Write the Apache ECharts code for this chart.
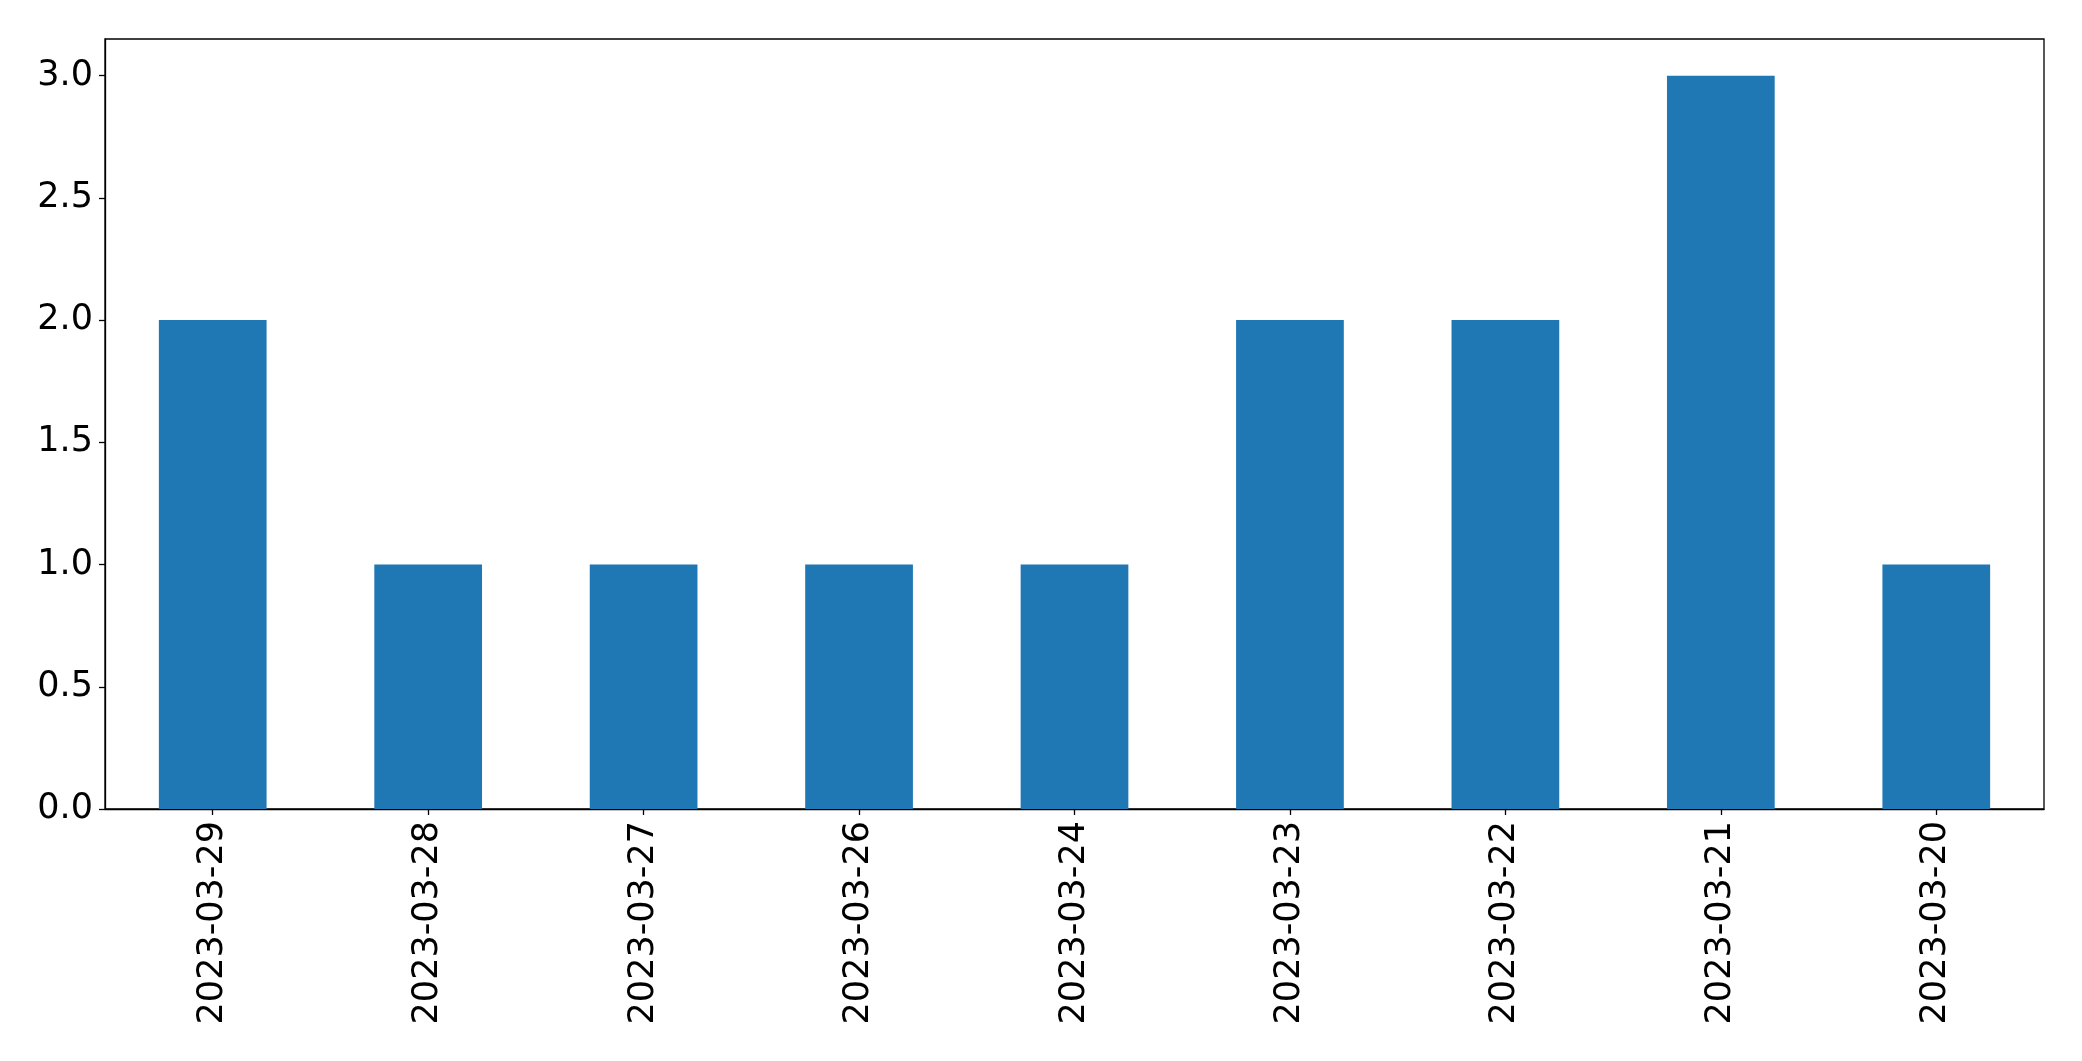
<!DOCTYPE html>
<html>
<head>
<meta charset="utf-8">
<script src="https://cdn.jsdelivr.net/npm/echarts@6/dist/echarts.min.js"></script>
<style>
html,body{margin:0;padding:0;background:#fff;}
#chart{width:2082px;height:1061px;}
</style>
</head>
<body>
<div id="chart"></div>
<script>
const categories = ['2023-03-29','2023-03-28','2023-03-27','2023-03-26','2023-03-24','2023-03-23','2023-03-22','2023-03-21','2023-03-20'];
const counts = [2, 1, 1, 1, 1, 2, 2, 3, 1];
const yTicks = [0, 0.5, 1.0, 1.5, 2.0, 2.5, 3.0];

const chart = echarts.init(document.getElementById('chart'), null, {renderer: 'canvas'});
const font = 'DejaVu Sans';
chart.setOption({
  animation: false,
  backgroundColor: '#ffffff',
  grid: {
    left: 105, right: 38, top: 39, bottom: 252,
    show: true, borderColor: '#000', borderWidth: 1.3, backgroundColor: 'transparent'
  },
  xAxis: {
    type: 'category',
    data: categories,
    boundaryGap: true,
    axisLine: {show: true, lineStyle: {color: '#000', width: 1.3}},
    axisTick: {show: true, alignWithLabel: true, length: 6, lineStyle: {color: '#000', width: 1.3}},
    axisLabel: {rotate: 90, color: '#000', fontSize: 35, fontFamily: font, margin: 12, interval: 0},
    splitLine: {show: false}
  },
  yAxis: {
    type: 'value',
    min: 0, max: 3.15,
    axisLine: {show: true, lineStyle: {color: '#000', width: 1.3}},
    axisTick: {show: true, length: 6, customValues: yTicks, lineStyle: {color: '#000', width: 1.3}},
    axisLabel: {
      color: '#000', fontSize: 35, fontFamily: font, margin: 12,
      customValues: yTicks,
      formatter: function (v) { return Number(v).toFixed(1); }
    },
    splitLine: {show: false}
  },
  series: [{
    type: 'bar',
    data: counts,
    barWidth: '50%',
    itemStyle: {color: '#1f77b4'}
  }]
});
</script>
</body>
</html>
